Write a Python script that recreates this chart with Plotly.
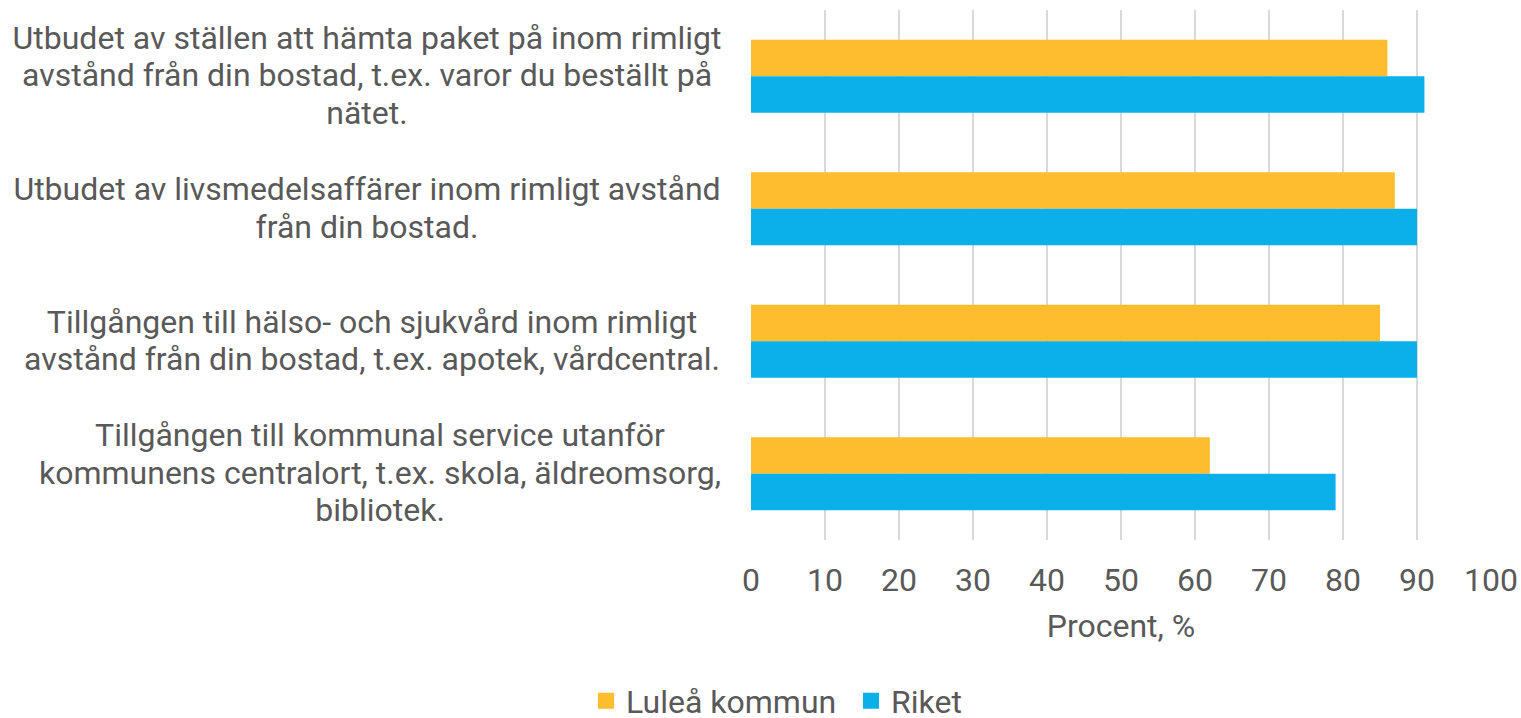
import plotly.graph_objects as go

# Data
categories = [
    'Utbudet av ställen att hämta paket på inom rimligt<br>avstånd från din bostad, t.ex. varor du beställt på<br>nätet.',
    'Utbudet av livsmedelsaffärer inom rimligt avstånd<br>från din bostad.',
    'Tillgången till hälso- och sjukvård inom rimligt<br>avstånd från din bostad, t.ex. apotek, vårdcentral.',
    'Tillgången till kommunal service utanför<br>kommunens centralort, t.ex. skola, äldreomsorg,<br>bibliotek.',
]
series_names = ['Luleå kommun', 'Riket']
lulea = [86, 87, 85, 62]
riket = [91, 90, 90, 79]
x_ticks = [0, 10, 20, 30, 40, 50, 60, 70, 80, 90, 100]
x_title = 'Procent, %'

colors = ['#FEBC2F', '#0BB0EB']
txt = '#595959'
font_family = 'Roboto'
fs = 32
line_h = 37.5
label_box_w = [708, 708, 698, 682]  # width of each label block (lines centred inside)

fig = go.Figure()
for k, (name, vals, c) in enumerate(zip(series_names, [lulea, riket], colors)):
    fig.add_trace(go.Bar(y=categories, x=vals, name=name, orientation='h',
                         offsetgroup=str(k), showlegend=False,
                         marker=dict(color=c, line=dict(width=0))))
# legend-only entries with a larger swatch
for k, (name, c) in enumerate(zip(series_names, colors)):
    fig.add_trace(go.Bar(y=[categories[0]], x=[None], name=name, orientation='h',
                         offsetgroup=str(k), hoverinfo='skip',
                         marker=dict(color=c, line=dict(color=c, width=4))))

# category labels: one annotation per line (tighter line spacing than plotly's),
# lines centred in a right-aligned box
for cat, bw in zip(categories, label_box_w):
    lines = cat.split('<br>')
    n = len(lines)
    for i, ln in enumerate(lines):
        fig.add_annotation(text=ln, x=0, xref='paper', y=cat, yref='y',
                           xanchor='right', yanchor='middle', align='center',
                           width=bw, xshift=-28,
                           yshift=((n - 1) / 2 - i) * line_h + 1,
                           showarrow=False,
                           font=dict(family=font_family, size=fs, color=txt))

fig.update_layout(
    width=1521, height=718,
    margin=dict(l=751, r=30, t=10, b=178, autoexpand=False),
    paper_bgcolor='white', plot_bgcolor='white',
    barmode='group', bargap=0.45, bargroupgap=0,
    font=dict(family=font_family, size=fs, color=txt),
    xaxis=dict(range=[0, 100], tickvals=x_ticks, showgrid=True,
               gridcolor='#D9D9D9', gridwidth=1.5, zeroline=False,
               showline=False, ticks='outside', ticklen=12,
               tickcolor='rgba(0,0,0,0)', automargin=False,
               title=dict(text=x_title, standoff=16,
                          font=dict(size=fs, color=txt)),
               tickfont=dict(size=fs, color=txt)),
    yaxis=dict(autorange='reversed', showticklabels=False, showgrid=False,
               zeroline=False, showline=False, automargin=False),
    legend=dict(orientation='h', xref='container', yref='container',
                x=586 / 1521, xanchor='left', y=1 - 701 / 718, yanchor='middle',
                font=dict(size=fs, color=txt), itemwidth=30, entrywidth=220,
                traceorder='normal'),
)

fig.write_html('out.html', config={'displayModeBar': False},
               post_script="document.body.style.margin='0';")
